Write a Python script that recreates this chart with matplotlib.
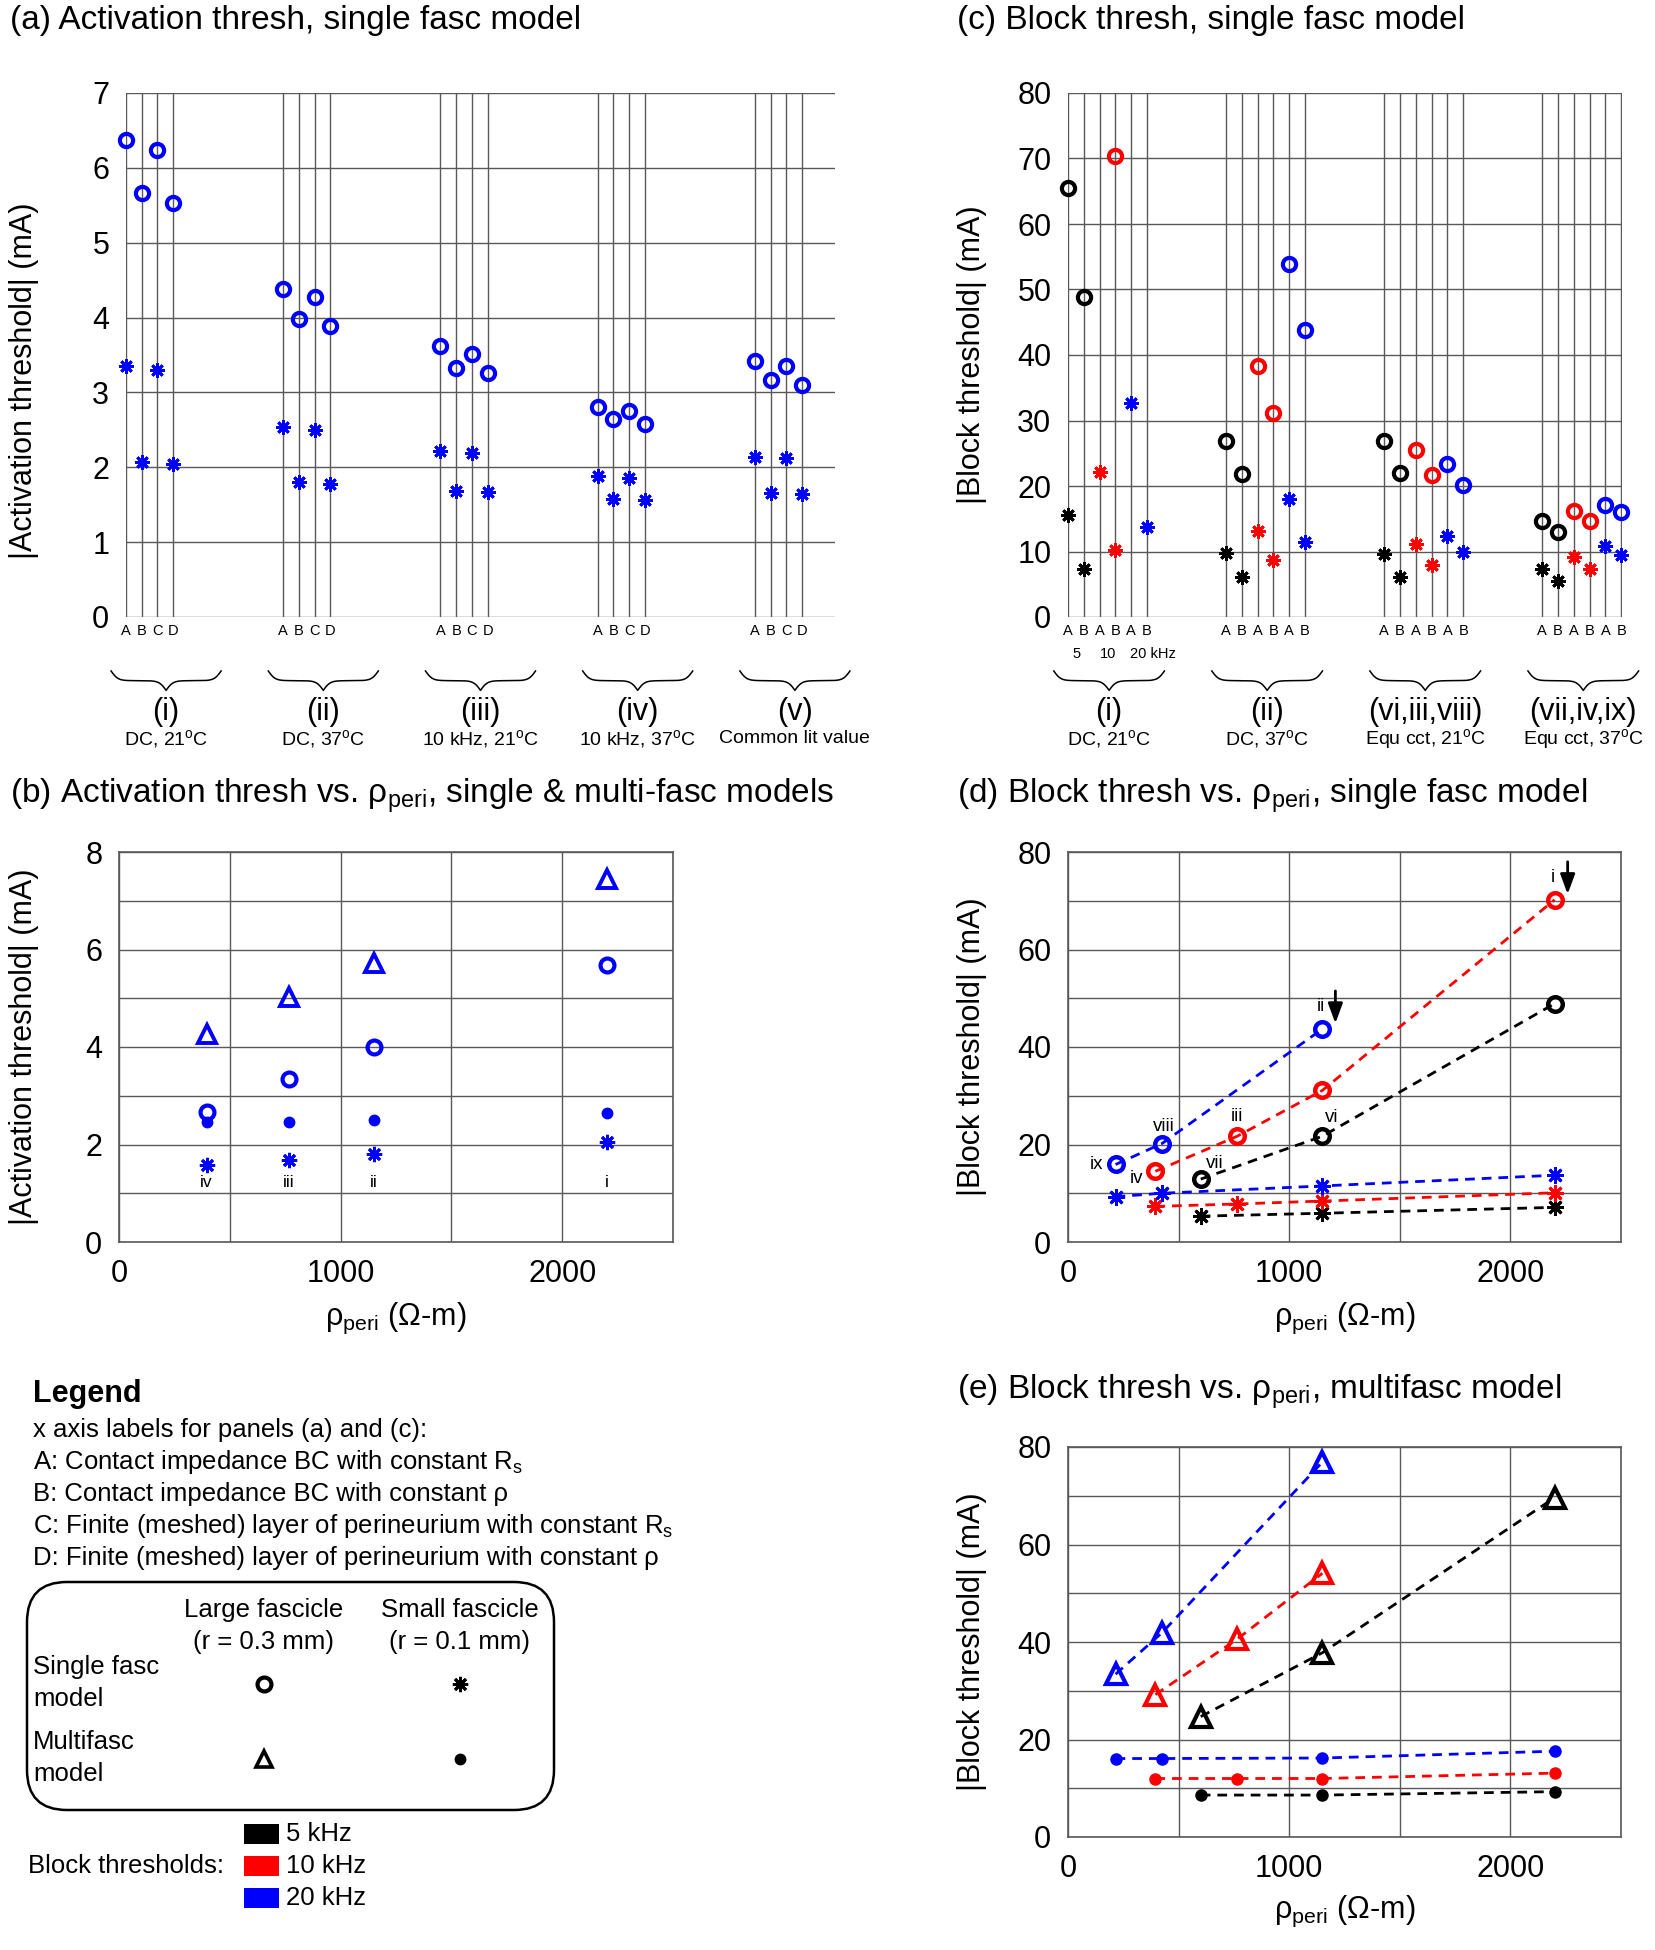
import numpy as np
import matplotlib.pyplot as plt
import matplotlib.transforms as mtransforms
from matplotlib.patches import FancyBboxPatch, Rectangle

plt.rcParams['font.family'] = ['Liberation Sans', 'DejaVu Sans']
plt.rcParams['mathtext.fontset'] = 'custom'
plt.rcParams['mathtext.rm'] = 'Liberation Sans'
plt.rcParams['mathtext.it'] = 'Liberation Sans:italic'

W, H = 1656, 1950
BLUE, RED, BLACK = '#0000ff', '#ff0000', '#000000'
GRID = '0.35'
AST = (8, 2, 0)          # MATLAB-like asterisk
DEG = r'$\mathregular{^o}$'
RHO = r'$\mathregular{ρ_{peri}}$'

# ------------------------------------------------------------------
# data
# ------------------------------------------------------------------
# (a) activation threshold (mA), columns A-D for each condition
a_groups = ['(i)', '(ii)', '(iii)', '(iv)', '(v)']
a_conds = ['DC, 21' + DEG + 'C', 'DC, 37' + DEG + 'C', '10 kHz, 21' + DEG + 'C',
           '10 kHz, 37' + DEG + 'C', 'Common lit value']
a_letters = ['A', 'B', 'C', 'D']
a_large = [[6.37, 5.67, 6.24, 5.53],
           [4.38, 3.98, 4.27, 3.89],
           [3.62, 3.33, 3.52, 3.26],
           [2.80, 2.65, 2.75, 2.58],
           [3.42, 3.17, 3.35, 3.10]]
a_small = [[3.35, 2.07, 3.30, 2.04],
           [2.54, 1.80, 2.50, 1.78],
           [2.22, 1.68, 2.19, 1.67],
           [1.88, 1.57, 1.86, 1.56],
           [2.14, 1.65, 2.12, 1.64]]

# (c) block threshold (mA), columns A/B for 5, 10, 20 kHz
c_groups = ['(i)', '(ii)', '(vi,iii,viii)', '(vii,iv,ix)']
c_conds = ['DC, 21' + DEG + 'C', 'DC, 37' + DEG + 'C',
           'Equ cct, 21' + DEG + 'C', 'Equ cct, 37' + DEG + 'C']
c_letters = ['A', 'B']
nan = np.nan
c_large_5k = [[65.5, 48.8], [26.9, 21.8], [26.8, 22.0], [14.6, 13.0]]
c_large_10k = [[nan, 70.4], [38.3, 31.2], [25.5, 21.7], [16.2, 14.7]]
c_large_20k = [[nan, nan], [53.9, 43.8], [23.4, 20.2], [17.1, 16.0]]
c_small_5k = [[15.6, 7.3], [9.7, 6.1], [9.6, 6.1], [7.3, 5.5]]
c_small_10k = [[22.1, 10.2], [13.1, 8.7], [11.2, 7.9], [9.2, 7.3]]
c_small_20k = [[32.7, 13.7], [18.0, 11.4], [12.3, 9.9], [10.8, 9.4]]

# (b) activation threshold vs rho_peri
b_rho = [395, 765, 1150, 2200]
b_labels = ['iv', 'iii', 'ii', 'i']
b_single_large = [2.67, 3.35, 4.00, 5.69]
b_single_small = [1.58, 1.69, 1.80, 2.06]
b_multi_large = [4.27, 5.02, 5.73, 7.45]
b_multi_small = [2.47, 2.47, 2.50, 2.64]

# (d) block threshold vs rho_peri, single fasc
rho_5k = [600, 1150, 2200]
rho_10k = [395, 765, 1150, 2200]
rho_20k = [215, 425, 1150, 2200]
d_large_5k = [12.9, 21.7, 48.9]
d_large_10k = [14.5, 21.7, 31.1, 70.2]
d_large_20k = [15.9, 20.2, 43.7, nan]
d_small_5k = [5.3, 5.9, 7.1]
d_small_10k = [7.3, 7.8, 8.4, 10.1]
d_small_20k = [9.3, 10.0, 11.5, 13.7]
d_lab_5k = ['vii', 'vi', '']
d_lab_10k = ['iv', 'iii', '', 'i']
d_lab_20k = ['ix', 'viii', 'ii', '']
d_arrows = ['ii', 'i']

# (e) block threshold vs rho_peri, multifasc
e_large_5k = [24.7, 37.8, 69.6]
e_large_10k = [29.2, 40.6, 54.1, nan]
e_large_20k = [33.4, 41.9, 76.9, nan]
e_small_5k = [8.6, 8.6, 9.3]
e_small_10k = [12.0, 12.0, 12.0, 13.1]
e_small_20k = [16.1, 16.1, 16.2, 17.6]

freq_labels = ['5 kHz', '10 kHz', '20 kHz']
freq_colors = [BLACK, RED, BLUE]

# ------------------------------------------------------------------
fig = plt.figure(figsize=(W / 100, H / 100), dpi=100)

ov = fig.add_axes([0, 0, 1, 1])
ov.set_xlim(0, W)
ov.set_ylim(H, 0)
ov.axis('off')


def px_axes(left, top, right, bottom):
    return fig.add_axes([left / W, 1 - bottom / H, (right - left) / W, (bottom - top) / H])


def brace(ax, xc, half, y_top=-0.103, y_tip=-0.14, beta=16):
    t = np.linspace(0, 1, 120)
    yh = 1 / (1 + np.exp(-beta * t)) + 1 / (1 + np.exp(-beta * (t - 1)))
    y = np.concatenate([yh, yh[-2::-1]])
    x = np.concatenate([xc - half + t * half, xc + t[1:] * half])
    y = y_top + (y - 0.5) * (y_tip - y_top)
    tr = mtransforms.blended_transform_factory(ax.transData, ax.transAxes)
    ax.plot(x, y, color='k', lw=1.1, transform=tr, clip_on=False)


def group_labels(ax, centers, names, conds):
    tr = mtransforms.blended_transform_factory(ax.transData, ax.transAxes)
    for xc, nm, cd in zip(centers, names, conds):
        brace(ax, xc, 3.5)
        ax.text(xc, -0.181, nm, transform=tr, ha='center', va='center', fontsize=22)
        ax.text(xc, -0.232, cd, transform=tr, ha='center', va='center', fontsize=14)


def style_rho_axes(ax, ymax, ystep, ylabel):
    ax.set_xlim(0, 2500)
    ax.set_ylim(0, ymax)
    ax.set_xticks([0, 1000, 2000])
    ax.set_xticks([500, 1500, 2500], minor=True)
    ax.set_yticks(np.arange(0, ymax + 1e-9, 2 * ystep))
    ax.set_yticks(np.arange(ystep, ymax, 2 * ystep), minor=True)
    ax.grid(True, which='both', color=GRID, lw=1)
    ax.tick_params(which='both', length=0, labelsize=22)
    ax.tick_params(axis='y', pad=12)
    ax.tick_params(axis='x', pad=12)
    for s in ax.spines.values():
        s.set_color(GRID)
        s.set_linewidth(1.2)
    ax.set_ylabel(ylabel, fontsize=22, va='center')
    ax.yaxis.set_label_coords(-0.173, 0.5)
    ax.set_xlabel(RHO + ' (Ω-m)', fontsize=22, va='center')
    ax.xaxis.set_label_coords(0.5, -0.195)


# ---------------- (a) ----------------
axa = px_axes(126, 93, 835, 617)
for g in range(len(a_groups)):
    xs = [10 * g + j for j in range(len(a_letters))]
    axa.plot(xs, a_large[g], ls='none', marker='o', ms=9.5, mew=3, mec=BLUE, mfc='none',
             clip_on=False, zorder=3)
    axa.plot(xs, a_small[g], ls='none', marker=AST, ms=10.5, mew=2, mec=BLUE,
             clip_on=False, zorder=3)
axa.set_xlim(0, 45.1)
axa.set_ylim(0, 7)
axa.set_xticks([10 * g + j for g in range(len(a_groups)) for j in range(len(a_letters))],
               a_letters * len(a_groups))
axa.set_yticks(range(8))
axa.grid(True, color=GRID, lw=1)
axa.tick_params(length=0)
axa.tick_params(axis='y', labelsize=22, pad=12)
axa.tick_params(axis='x', labelsize=10.5, pad=5)
for s in axa.spines.values():
    s.set_visible(False)
axa.set_ylabel('|Activation threshold| (mA)', fontsize=22, va='center')
axa.yaxis.set_label_coords(-0.144, 0.45)
group_labels(axa, [2.55 + 10 * g for g in range(len(a_groups))], a_groups, a_conds)

# ---------------- (c) ----------------
axc = px_axes(1068, 93, 1622, 617)
c_large = [c_large_5k, c_large_10k, c_large_20k]
c_small = [c_small_5k, c_small_10k, c_small_20k]
for g in range(len(c_groups)):
    for f, col in enumerate(freq_colors):
        xs = [10 * g + 2 * f + k for k in range(2)]
        axc.plot(xs, c_large[f][g], ls='none', marker='o', ms=9.5, mew=3, mec=col, mfc='none',
                 clip_on=False, zorder=3)
        axc.plot(xs, c_small[f][g], ls='none', marker=AST, ms=10.5, mew=2, mec=col,
                 clip_on=False, zorder=3)
axc.set_xlim(0, 35.05)
axc.set_ylim(0, 80)
axc.set_xticks([10 * g + j for g in range(len(c_groups)) for j in range(6)],
               c_letters * 3 * len(c_groups))
axc.set_yticks(range(0, 81, 10))
axc.grid(True, color=GRID, lw=1)
axc.tick_params(length=0)
axc.tick_params(axis='y', labelsize=22, pad=12)
axc.tick_params(axis='x', labelsize=10.5, pad=5)
for s in axc.spines.values():
    s.set_visible(False)
axc.set_ylabel('|Block threshold| (mA)', fontsize=22, va='center')
axc.yaxis.set_label_coords(-0.173, 0.5)
trc = mtransforms.blended_transform_factory(axc.transData, axc.transAxes)
axc.text(0.55, -0.071, '5', transform=trc, ha='center', va='center', fontsize=10.5)
axc.text(2.55, -0.071, '10', transform=trc, ha='center', va='center', fontsize=10.5)
axc.text(3.9, -0.071, '20 kHz', transform=trc, ha='left', va='center', fontsize=10.5)
group_labels(axc, [2.6 + 10 * g for g in range(len(c_groups))], c_groups, c_conds)

# ---------------- (b) ----------------
axb = px_axes(119, 852, 673, 1242)
axb.plot(b_rho, b_multi_large, ls='none', marker='^', ms=13, mew=2.8, mec=BLUE, mfc='none')
axb.plot(b_rho, b_single_large, ls='none', marker='o', ms=10, mew=3, mec=BLUE, mfc='none')
axb.plot(b_rho, b_multi_small, ls='none', marker='o', ms=7.5, color=BLUE)
axb.plot(b_rho, b_single_small, ls='none', marker=AST, ms=11, mew=2, mec=BLUE)
for x, lab in zip(b_rho, b_labels):
    axb.text(x, 1.22, lab, ha='center', va='center', fontsize=12.5)
style_rho_axes(axb, 8, 1, '|Activation threshold| (mA)')
axb.yaxis.set_label_coords(-0.171, 0.5)

# ---------------- (d) ----------------
axd = px_axes(1068, 852, 1621, 1242)
lab_off = {'ix': (-12, 0, 'right'), 'viii': (2, 17, 'center'), 'ii': (-2, 22, 'center'),
           'iv': (-12, -7, 'right'), 'iii': (0, 20, 'center'), 'i': (-2, 22, 'center'),
           'vii': (14, 16, 'center'), 'vi': (9, 19, 'center')}
arrow_tr = axd.transData + mtransforms.ScaledTranslation(13 / 100, 0, fig.dpi_scale_trans)
d_sets = [(rho_5k, d_large_5k, d_small_5k, d_lab_5k, BLACK),
          (rho_10k, d_large_10k, d_small_10k, d_lab_10k, RED),
          (rho_20k, d_large_20k, d_small_20k, d_lab_20k, BLUE)]
for rho, big, small, labs, col in d_sets:
    axd.plot(rho, big, ls='--', dashes=(3.5, 2.5), lw=2, color=col,
             marker='o', ms=10.5, mew=3.2, mec=col, mfc='none')
    axd.plot(rho, small, ls='--', dashes=(3.5, 2.5), lw=2, color=col,
             marker=AST, ms=12, mew=2, mec=col)
    for x, y, lab in zip(rho, big, labs):
        if not lab:
            continue
        dx, dy, ha = lab_off[lab]
        axd.annotate(lab, (x, y), xytext=(dx, dy), textcoords='offset pixels',
                     ha=ha, va='center', fontsize=13.5)
        if lab in d_arrows:
            axd.annotate('', xy=(x, y), xycoords=arrow_tr, xytext=(0, 38),
                         textcoords='offset pixels',
                         arrowprops=dict(arrowstyle='-|>,head_width=0.22,head_length=0.6',
                                         lw=2, color='k', shrinkA=0, shrinkB=4,
                                         mutation_scale=20))
style_rho_axes(axd, 80, 10, '|Block threshold| (mA)')

# ---------------- (e) ----------------
axe = px_axes(1068, 1447, 1621, 1837)
e_sets = [(rho_5k, e_large_5k, e_small_5k, BLACK),
          (rho_10k, e_large_10k, e_small_10k, RED),
          (rho_20k, e_large_20k, e_small_20k, BLUE)]
for rho, big, small, col in e_sets:
    axe.plot(rho, big, ls='--', dashes=(3.5, 2.5), lw=2, color=col,
             marker='^', ms=14, mew=3, mec=col, mfc='none')
    axe.plot(rho, small, ls='--', dashes=(3.5, 2.5), lw=2, color=col,
             marker='o', ms=8, mec=col, mfc=col)
style_rho_axes(axe, 80, 10, '|Block threshold| (mA)')
axe.xaxis.set_label_coords(0.5, -0.19)

# ---------------- titles ----------------
ov.text(10, 21, '(a) Activation thresh, single fasc model', fontsize=24, va='center')
ov.text(957, 21, '(c) Block thresh, single fasc model', fontsize=24, va='center')
ov.text(10, 796, '(b) Activation thresh vs. ' + RHO + ', single & multi-fasc models',
        fontsize=24, va='center')
ov.text(957, 796, '(d) Block thresh vs. ' + RHO + ', single fasc model', fontsize=24, va='center')
ov.text(957, 1392, '(e) Block thresh vs. ' + RHO + ', multifasc model', fontsize=24, va='center')

# ---------------- legend ----------------
ov.text(33, 1394, 'Legend', fontsize=22, fontweight='bold', va='center')
leg_lines = ['x axis labels for panels (a) and (c):',
             r'A: Contact impedance BC with constant $\mathregular{R_s}$',
             'B: Contact impedance BC with constant ρ',
             r'C: Finite (meshed) layer of perineurium with constant $\mathregular{R_s}$',
             'D: Finite (meshed) layer of perineurium with constant ρ']
for i, s in enumerate(leg_lines):
    ov.text(33, 1430 + 32 * i, s, fontsize=18.5, va='center')

r = 40
ov.add_patch(FancyBboxPatch((27 + r, 1582 + r), 527 - 2 * r, 228 - 2 * r,
                            boxstyle=f'round,pad={r}', fc='none', ec='k', lw=1.8))
for x, top, bot in [(264, 'Large fascicle', '(r = 0.3 mm)'), (460, 'Small fascicle', '(r = 0.1 mm)')]:
    ov.text(x, 1610, top, fontsize=18.5, ha='center', va='center')
    ov.text(x, 1642, bot, fontsize=18.5, ha='center', va='center')
for y, s in [(1667, 'Single fasc'), (1699, 'model'), (1742, 'Multifasc'), (1774, 'model')]:
    ov.text(33, y, s, fontsize=18.5, va='center')
ov.plot([264], [1684], marker='o', ms=10, mew=3, mec='k', mfc='none')
ov.plot([460], [1684], marker=AST, ms=11, mew=2, mec='k')
ov.plot([264], [1759], marker='^', ms=11, mew=2.6, mec='k', mfc='none')
ov.plot([460], [1759], marker='o', ms=7.5, color='k')

ov.text(28, 1866, 'Block thresholds:', fontsize=18.5, va='center')
for i, (lab, col) in enumerate(zip(freq_labels, freq_colors)):
    yc = 1834 + 32 * i
    ov.add_patch(Rectangle((244, yc - 10), 35, 20, fc=col, ec='none'))
    ov.text(286, yc, lab, fontsize=18.5, va='center')

fig.savefig('out.png', dpi=100)
